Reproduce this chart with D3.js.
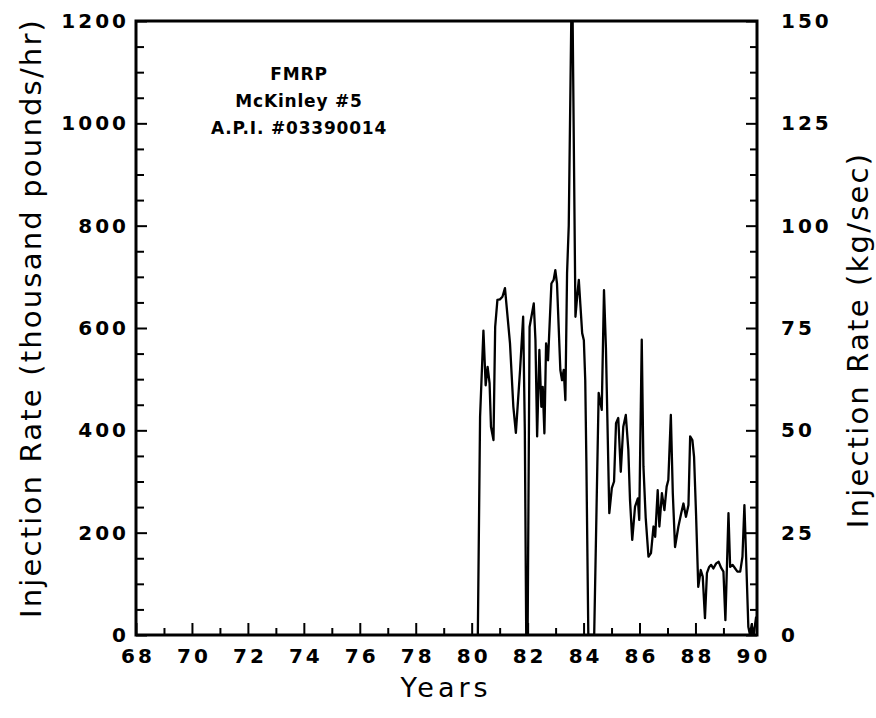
<!DOCTYPE html>
<html>
<head>
<meta charset="utf-8">
<script src="https://cdn.jsdelivr.net/npm/d3@7"></script>
<style>
  html, body { margin: 0; padding: 0; background: #fff; }
  svg { display: block; }
  text { font-family: "DejaVu Sans", sans-serif; fill: #000; }
</style>
</head>
<body>
<svg id="chart" width="876" height="718"></svg>
<script>
// ---- data ----
const years = [
  80.22, 80.30, 80.42, 80.50, 80.57, 80.64, 80.69, 80.78, 80.84, 80.92,
  81.01, 81.10, 81.19, 81.37, 81.49, 81.58, 81.73, 81.84, 81.90, 81.95,
  82.00, 82.07, 82.22, 82.28, 82.34, 82.42, 82.49, 82.54, 82.60, 82.66,
  82.73, 82.85, 82.93, 82.99, 83.05, 83.17, 83.23, 83.29, 83.35, 83.41,
  83.47, 83.56, 83.61, 83.71, 83.77, 83.83, 83.89, 83.95, 84.01, 84.06,
  84.10, 84.17, 84.38, 84.54, 84.65, 84.73, 84.80, 84.92, 85.01, 85.09,
  85.16, 85.24, 85.33, 85.42, 85.51, 85.60, 85.66, 85.74, 85.84, 85.94,
  85.99, 86.08, 86.14, 86.22, 86.32, 86.41, 86.50, 86.56, 86.65, 86.71,
  86.80, 86.89, 86.97, 87.03, 87.12, 87.19, 87.27, 87.39, 87.49, 87.57,
  87.66, 87.75, 87.81, 87.89, 87.95, 88.02, 88.10, 88.19, 88.26, 88.34,
  88.41, 88.49, 88.56, 88.64, 88.74, 88.83, 88.92, 89.00, 89.07, 89.18,
  89.24, 89.33, 89.42, 89.50, 89.60, 89.68, 89.75, 89.81, 89.89, 89.95,
  90.01, 90.08, 90.17
];
const rates = [
     0,  426,  595,  488,  524,  492,  407,  381,  602,  655,
   656,  661,  678,  570,  446,  395,  518,  622,  400,    0,
     0,  602,  648,  576,  388,  557,  446,  485,  394,  570,
   537,  687,  694,  713,  687,  518,  498,  518,  459,  707,
   800, 1200, 1200,  622,  661,  694,  642,  590,  576,  498,
   340,    0,    0,  473,  440,  674,  560,  238,  287,  300,
   414,  424,  319,  407,  430,  362,  264,  186,  251,  267,
   225,  577,  330,  230,  153,  160,  212,  192,  283,  212,
   277,  244,  290,  303,  430,  277,  172,  212,  238,  257,
   231,  254,  388,  381,  348,  238,   94,  127,  114,   33,
   121,  133,  137,  130,  140,  143,  131,  124,   29,  238,
   133,  137,  130,  124,  124,  153,  254,  153,   16,    0,
    20,    0,   36
];
const xMajorTicks = [68, 70, 72, 74, 76, 78, 80, 82, 84, 86, 88, 90];
const xMinorTicks = [69, 71, 73, 75, 77, 79, 81, 83, 85, 87, 89];
const leftMajorTicks = [0, 200, 400, 600, 800, 1000, 1200];
const rightMajorTicks = [0, 25, 50, 75, 100, 125, 150];
const annotationLines = ["FMRP", "McKinley #5", "A.P.I. #03390014"];
const xTitle = "Years";
const leftTitle = "Injection Rate (thousand pounds/hr)";
const rightTitle = "Injection Rate (kg/sec)";

// ---- layout ----
const L = 136, R = 757, T = 21, B = 635;
const svg = d3.select("#chart");

const x = d3.scaleLinear().domain([68, 90.2]).range([L, R]);
const y = d3.scaleLinear().domain([0, 1200]).range([B, T]);
const y2 = d3.scaleLinear().domain([0, 150]).range([B, T]);

const leftMinor = d3.range(50, 1200, 50).filter(v => v % 200 !== 0);
const rightMinor = d3.range(6.25, 150, 6.25).filter(v => Math.abs(v % 25) > 1e-9);

// clip
svg.append("defs").append("clipPath").attr("id", "clip")
  .append("rect").attr("x", L).attr("y", T).attr("width", R - L).attr("height", B - T);

// data line
const pts = years.map((yr, i) => [yr, rates[i]]);
svg.append("path")
  .datum(pts)
  .attr("clip-path", "url(#clip)")
  .attr("fill", "none")
  .attr("stroke", "#000")
  .attr("stroke-width", 2.3)
  .attr("stroke-linejoin", "round")
  .attr("d", d3.line().x(d => x(d[0])).y(d => y(d[1])));

function styleAxis(g) {
  g.select(".domain").remove();
  g.selectAll(".tick line").attr("stroke", "#000").attr("stroke-width", 2);
  g.selectAll(".tick text")
    .style("font-family", "'DejaVu Sans', sans-serif")
    .style("font-weight", "bold")
    .style("font-size", "20px")
    .style("letter-spacing", "3px")
    .attr("fill", "#000");
}

// bottom axis
const gx = svg.append("g").attr("transform", `translate(0,${B})`)
  .call(d3.axisBottom(x).tickValues(xMajorTicks).tickFormat(d3.format("d"))
    .tickSizeInner(-12).tickSizeOuter(0).tickPadding(14));
styleAxis(gx);
gx.selectAll(".tick text").attr("dx", "1.5px");
const gxm = svg.append("g").attr("transform", `translate(0,${B})`)
  .call(d3.axisBottom(x).tickValues(xMinorTicks).tickFormat("")
    .tickSizeInner(-7).tickSizeOuter(0));
styleAxis(gxm);

// left axis
const gl = svg.append("g").attr("transform", `translate(${L},0)`)
  .call(d3.axisLeft(y).tickValues(leftMajorTicks).tickFormat(d3.format("d"))
    .tickSizeInner(-11).tickSizeOuter(0).tickPadding(7));
styleAxis(gl);
const glm = svg.append("g").attr("transform", `translate(${L},0)`)
  .call(d3.axisLeft(y).tickValues(leftMinor).tickFormat("")
    .tickSizeInner(-8).tickSizeOuter(0));
styleAxis(glm);

// right axis
const gr = svg.append("g").attr("transform", `translate(${R},0)`)
  .call(d3.axisRight(y2).tickValues(rightMajorTicks).tickFormat(d3.format("d"))
    .tickSizeInner(-11).tickSizeOuter(0).tickPadding(24));
styleAxis(gr);
const grm = svg.append("g").attr("transform", `translate(${R},0)`)
  .call(d3.axisRight(y2).tickValues(rightMinor).tickFormat("")
    .tickSizeInner(-7).tickSizeOuter(0));
styleAxis(grm);

// frame
svg.append("rect")
  .attr("x", L).attr("y", T).attr("width", R - L).attr("height", B - T)
  .attr("fill", "none").attr("stroke", "#000").attr("stroke-width", 3);

// annotation
svg.append("g").selectAll("text").data(annotationLines).join("text")
  .attr("x", 299).attr("y", (d, i) => 80 + i * 27)
  .attr("text-anchor", "middle")
  .style("font-weight", "bold").style("font-size", "17px").style("letter-spacing", "0.8px")
  .text(d => d);

// titles
svg.append("text")
  .attr("x", 446).attr("y", 697)
  .attr("text-anchor", "middle")
  .style("font-size", "27px").style("letter-spacing", "4px")
  .text(xTitle);

svg.append("text")
  .attr("transform", "translate(41,318) rotate(-90)")
  .attr("text-anchor", "middle")
  .style("font-size", "29px").style("letter-spacing", "2.2px")
  .text(leftTitle);

svg.append("text")
  .attr("transform", "translate(868,340) rotate(-90)")
  .attr("text-anchor", "middle")
  .style("font-size", "29px").style("letter-spacing", "2.2px")
  .text(rightTitle);
</script>
</body>
</html>
